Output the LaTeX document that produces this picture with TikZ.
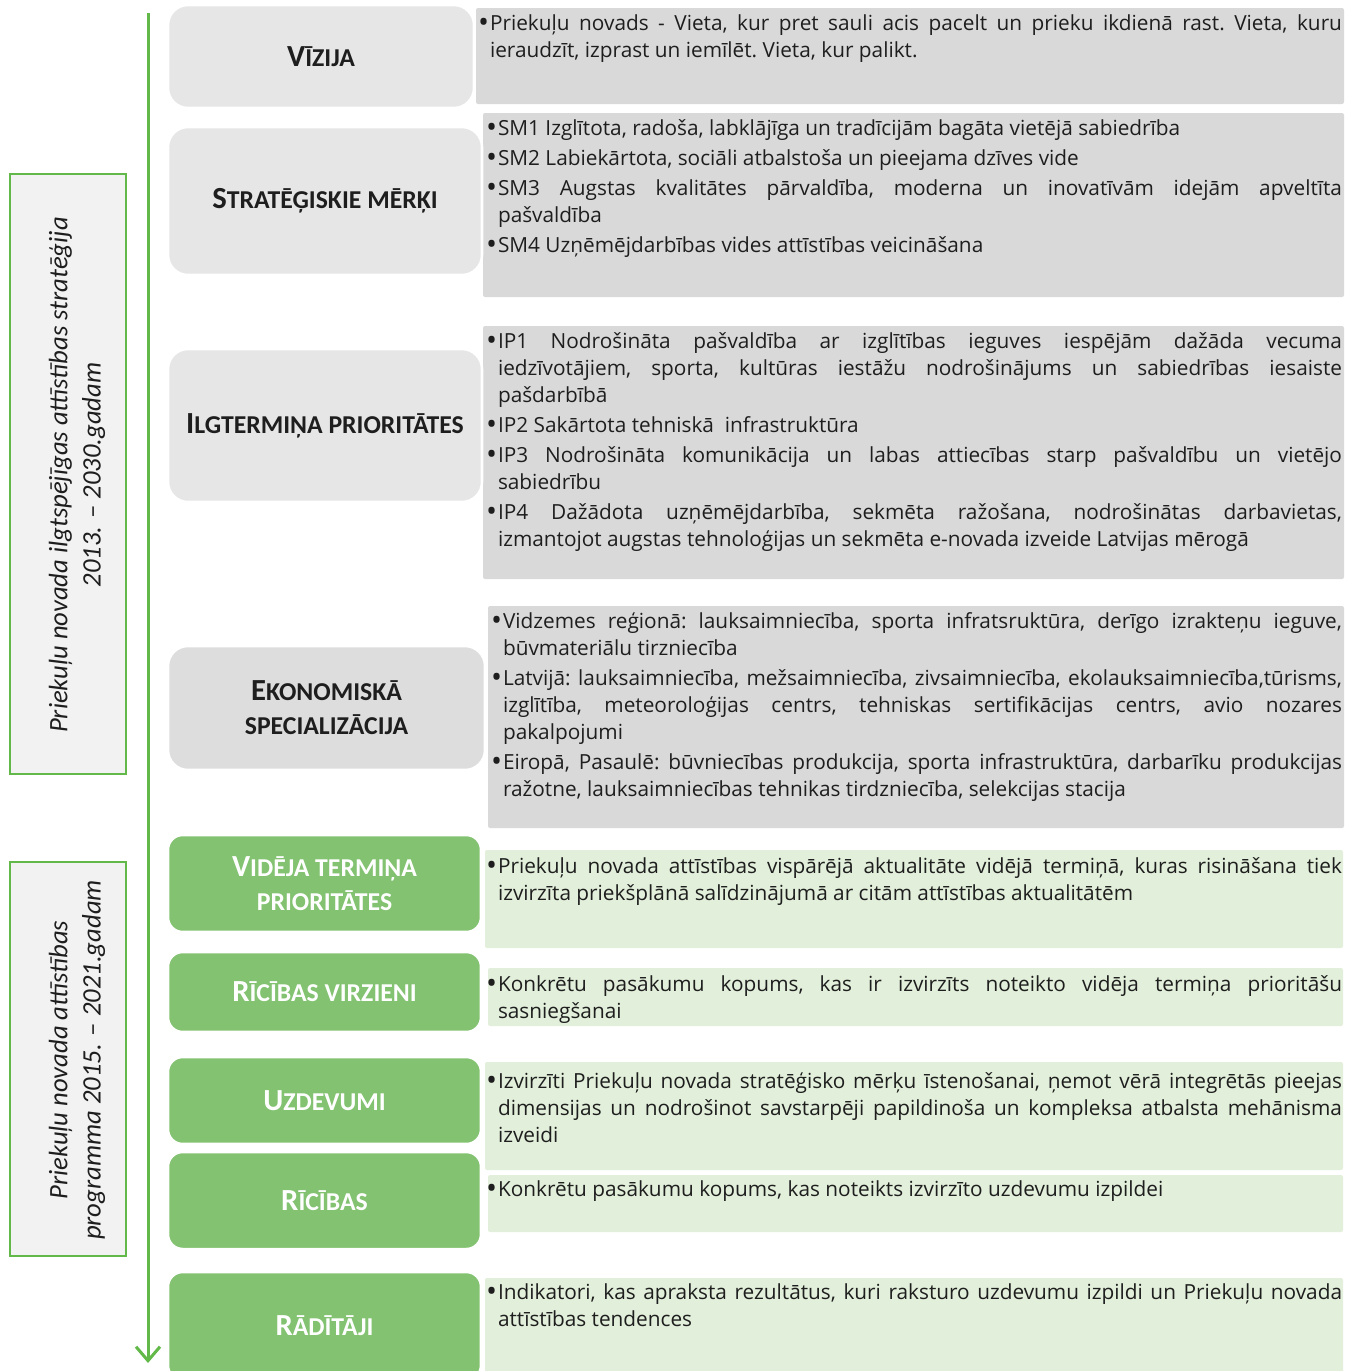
\documentclass[tikz,border=0pt]{standalone}
\usepackage{fontspec}
\setmainfont{Open Sans}
\newfontfamily\titlefont{Carlito}
\newfontfamily\sidefont{Carlito}
\usetikzlibrary{arrows.meta}
\newdimen\PX \PX=0.75pt
\definecolor{lgreen}{RGB}{130,194,112}
\definecolor{agreen}{RGB}{98,184,72}
\definecolor{tgray}{RGB}{217,217,217}
\definecolor{hgray}{RGB}{230,230,230}
\definecolor{egray}{RGB}{221,221,221}
\definecolor{pgreen}{RGB}{226,239,218}
\definecolor{sgray}{RGB}{242,242,242}
\definecolor{ink}{RGB}{30,30,30}
\newcommand\TB{\fontsize{23pt}{25.5pt}\selectfont}
\newcommand\TS{\fontsize{19.3pt}{25.5pt}\selectfont}
\newcommand\bul{\makebox[9pt][l]{\raisebox{-2.2pt}{\fontsize{22pt}{0pt}\selectfont\char"2022}}}
\newcommand\bitem[1]{\hangindent=9pt\hangafter=1\noindent\bul #1\par}
\newcommand\bx[2]{\parbox[t]{#1}{\frenchspacing\setlength\parskip{2.25pt}\tolerance=9999 \emergencystretch=3em \hyphenpenalty=10000 \exhyphenpenalty=10000 #2}}
\tikzset{
  tbox/.style={rectangle, rounded corners=1.5pt, inner sep=0pt, outer sep=0pt},
  graytext/.style={tbox, fill=tgray},
  greentext/.style={tbox, fill=pgreen},
  titlebox/.style={rectangle, rounded corners=15pt, draw=white, line width=1.9pt, inner sep=0pt, outer sep=0pt, align=center, font=\titlefont\bfseries\fontsize{19.3pt}{25.5pt}\selectfont},
  graytitle/.style={titlebox, fill=hgray, text=ink},
  greentitle/.style={titlebox, rounded corners=11pt, fill=lgreen, text=white},
  bodytext/.style={anchor=base west, inner sep=0pt, outer sep=0pt, text=ink, font=\fontsize{15.6pt}{20.25pt}\selectfont},
  sidebox/.style={rectangle, draw=agreen, fill=sgray, line width=1.5pt, inner sep=0pt},
  sidetext/.style={rotate=90, align=center, inner sep=0pt, text=ink, font=\sidefont\itshape\fontsize{20pt}{25pt}\selectfont},
  timeline/.style={draw=agreen, line width=2.25pt, -{Straight Barb[length=10.5pt, width=18pt, line width=2.25pt]}}
}
\begin{document}
\begin{tikzpicture}[x=0.75pt, y=-0.75pt]
\useasboundingbox (0,0) rectangle (1362,1371);
% side boxes
\node[sidebox, minimum width=87pt, minimum height=450pt] (s1) at (68,474) {};
\node[sidebox, minimum width=87pt, minimum height=295.5pt] (s2) at (68,1059) {};
\node[sidetext] (s1t) at (77,475) {Priekuļu novada ilgtspējīgas attīstības stratēģija\\2013. – 2030.gadam};
\node[sidetext] (s2t) at (77,1060) {Priekuļu novada attīstības\\programma 2015. – 2021.gadam};
% timeline
\coordinate (atop) at (148,13);
\coordinate (abot) at (148,1363);
\draw[timeline] (atop) -- (abot);
% text boxes
\node[graytext, minimum width=651pt, minimum height=72pt] (b1) at (910,56) {};
\node[graytext, minimum width=645.75pt, minimum height=138pt] (b2) at (913.5,205) {};
\node[graytext, minimum width=645.75pt, minimum height=189.75pt] (b3) at (913.5,452.5) {};
\node[graytext, minimum width=642pt, minimum height=166.5pt] (b4) at (916,717) {};
\node[greentext, minimum width=643.5pt, minimum height=73.5pt] (b5) at (914,899) {};
\node[greentext, minimum width=641.25pt, minimum height=43.5pt] (b6) at (915.5,997) {};
\node[greentext, minimum width=643.5pt, minimum height=81pt] (b7) at (914,1116) {};
\node[greentext, minimum width=641.25pt, minimum height=42.75pt] (b8) at (915.5,1203.5) {};
\node[greentext, minimum width=643.5pt, minimum height=76.5pt] (b9) at (914,1329) {};
% title boxes
\node[graytitle, minimum width=229.5pt, minimum height=77.25pt] (h1) at (321,56.5) {{\TB V}{\TS ĪZIJA}};
\node[graytitle, minimum width=235.5pt, minimum height=111pt] (h2) at (325,201) {{\TB S}{\TS TRATĒĢISKIE MĒRĶI}};
\node[graytitle, minimum width=235.5pt, minimum height=114.75pt] (h3) at (325,425.5) {{\TB I}{\TS LGTERMIŅA PRIORITĀTES}};
\node[graytitle, fill=egray, minimum width=237.75pt, minimum height=93pt] (h4) at (326.5,708) {{\TB E}{\TS KONOMISKĀ}\\{\TS SPECIALIZĀCIJA}};
\node[greentitle, minimum width=234.75pt, minimum height=72.75pt] (h5) at (324.5,883.5) {{\TB V}{\TS IDĒJA TERMIŅA}\\{\TS PRIORITĀTES}};
\node[greentitle, minimum width=234.75pt, minimum height=60pt] (h6) at (324.5,992) {{\TB R}{\TS ĪCĪBAS VIRZIENI}};
\node[greentitle, minimum width=234.75pt, minimum height=65.25pt] (h7) at (324.5,1100.5) {{\TB U}{\TS ZDEVUMI}};
\node[greentitle, minimum width=234.75pt, minimum height=72.75pt] (h8) at (324.5,1200.5) {{\TB R}{\TS ĪCĪBAS}};
\node[greentitle, minimum width=234.75pt, minimum height=81pt] (h9) at (324.5,1326) {{\TB R}{\TS ĀDĪTĀJI}};
% texts
\node[bodytext] (x1) at (478,30) {\bx{864\PX}{\bitem{Priekuļu novads - Vieta, kur pret sauli acis pacelt un prieku ikdienā rast. Vieta, kuru\linebreak ieraudzīt, izprast un iemīlēt. Vieta, kur palikt.}}};
\node[bodytext] (x2) at (486,135) {\bx{856\PX}{%
\bitem{SM1 Izglītota, radoša, labklājīga un tradīcijām bagāta vietējā sabiedrība}
\bitem{SM2 Labiekārtota, sociāli atbalstoša un pieejama dzīves vide}
\bitem{SM3 Augstas kvalitātes pārvaldība, moderna un inovatīvām idejām apveltīta\linebreak pašvaldība}
\bitem{SM4 Uzņēmējdarbības vides attīstības veicināšana}}};
\node[bodytext] (x3) at (486,348) {\bx{856\PX}{%
\bitem{IP1 Nodrošināta pašvaldība ar izglītības ieguves iespējām dažāda vecuma\linebreak iedzīvotājiem, sporta, kultūras iestāžu nodrošinājums un sabiedrības iesaiste\linebreak pašdarbībā}
\bitem{IP2 Sakārtota tehniskā\ \ infrastruktūra}
\bitem{IP3 Nodrošināta komunikācija un labas attiecības starp pašvaldību un vietējo\linebreak sabiedrību}
\bitem{IP4 Dažādota uzņēmējdarbība, sekmēta ražošana, nodrošinātas darbavietas,\linebreak izmantojot augstas tehnoloģijas un sekmēta e-novada izveide Latvijas mērogā}}};
\node[bodytext] (x4) at (491,628) {\bx{851\PX}{%
\bitem{Vidzemes reģionā: lauksaimniecība, sporta infratsruktūra, derīgo izrakteņu ieguve,\linebreak būvmateriālu tirzniecība}
\bitem{Latvijā: lauksaimniecība, mežsaimniecība, zivsaimniecība, ekolauksaimniecība,tūrisms,\linebreak izglītība, meteoroloģijas centrs, tehniskas sertifikācijas centrs, avio nozares\linebreak pakalpojumi}
\bitem{Eiropā, Pasaulē: būvniecības produkcija, sporta infrastruktūra, darbarīku produkcijas\linebreak ražotne, lauksaimniecības tehnikas tirdzniecība, selekcijas stacija}}};
\node[bodytext] (x5) at (486,873) {\bx{856\PX}{\bitem{Priekuļu novada attīstības vispārējā aktualitāte vidējā termiņā, kuras risināšana tiek\linebreak izvirzīta priekšplānā salīdzinājumā ar citām attīstības aktualitātēm}}};
\node[bodytext] (x6) at (486,991) {\bx{856\PX}{\bitem{Konkrētu pasākumu kopums, kas ir izvirzīts noteikto vidēja termiņa prioritāšu\linebreak sasniegšanai}}};
\node[bodytext] (x7) at (486,1088) {\bx{856\PX}{\bitem{Izvirzīti Priekuļu novada stratēģisko mērķu īstenošanai, ņemot vērā integrētās pieejas\linebreak dimensijas un nodrošinot savstarpēji papildinoša un kompleksa atbalsta mehānisma\linebreak izveidi}}};
\node[bodytext] (x8) at (486,1196) {\bx{856\PX}{\bitem{Konkrētu pasākumu kopums, kas noteikts izvirzīto uzdevumu izpildei}}};
\node[bodytext] (x9) at (486,1299) {\bx{856\PX}{\bitem{Indikatori, kas apraksta rezultātus, kuri raksturo uzdevumu izpildi un Priekuļu novada\linebreak attīstības tendences}}};
\end{tikzpicture}
\end{document}
